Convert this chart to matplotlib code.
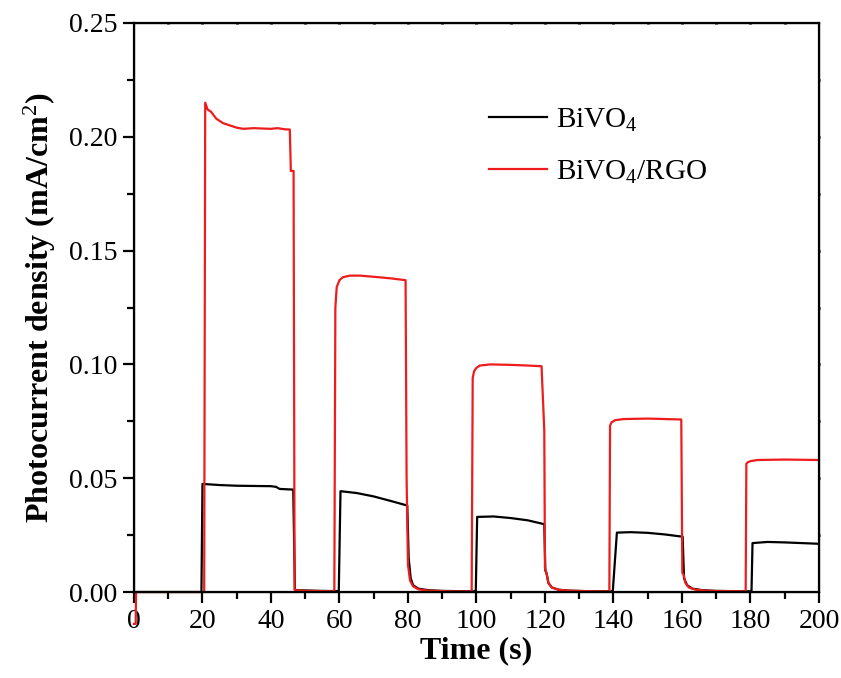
import matplotlib
matplotlib.use("Agg")
import matplotlib.pyplot as plt

plt.rcParams['font.family'] = ['Liberation Serif', 'DejaVu Serif']
plt.rcParams['mathtext.fontset'] = 'custom'
plt.rcParams['mathtext.rm'] = 'Liberation Serif'
plt.rcParams['mathtext.it'] = 'Liberation Serif:italic'
plt.rcParams['mathtext.bf'] = 'Liberation Serif:bold'

# BiVO4 (black)
t_bivo4 = [0, 19.7, 20.0, 25, 30, 35, 40, 41.5, 42.5, 46.5, 47.0, 47.5, 55, 59.5,
           59.8, 60.3, 65, 70, 75, 79.8, 80.2, 80.8, 81.5, 83, 86, 90, 99.5,
           99.8, 100.2, 105, 110, 115, 119.8, 120.1, 120.5, 121, 122, 124, 127, 132, 139.5,
           139.8, 141, 145, 150, 155, 160.2, 160.6, 161.5, 163, 166, 170, 180.3,
           180.6, 185, 190, 195, 200]
j_bivo4 = [0.0, 0.0, 0.0475, 0.0470, 0.0467, 0.0466, 0.0465, 0.0462, 0.0453, 0.0450, 0.0010, 0.0008, 0.0005, 0.0004,
           0.0004, 0.0443, 0.0435, 0.0420, 0.0400, 0.0380, 0.0150, 0.0060, 0.0030, 0.0015, 0.0008, 0.0005, 0.0003,
           0.0003, 0.0330, 0.0332, 0.0325, 0.0315, 0.0298, 0.0095, 0.0080, 0.0040, 0.0020, 0.0010, 0.0006, 0.0004, 0.0003,
           0.0003, 0.0261, 0.0263, 0.0260, 0.0253, 0.0243, 0.0060, 0.0030, 0.0015, 0.0008, 0.0005, 0.0003,
           0.0215, 0.0220, 0.0218, 0.0215, 0.0212]

# BiVO4/RGO (red)
t_rgo = [0, 0.5, 0.6, 20.5, 20.8, 21.5, 22.5, 24, 26, 28, 30, 32, 35, 38, 40, 42, 44, 45.5,
         45.8, 46.6, 46.9, 47.2, 50, 58.5,
         58.8, 59.2, 60, 61, 63, 66, 70, 75, 79.3, 79.6, 80.0, 80.6, 81.5, 83, 86, 90, 98.6,
         98.9, 99.3, 100, 101, 104, 110, 115, 119.0, 119.8, 120.0, 120.5, 121, 122, 124, 127, 132, 138.8,
         139.0, 139.4, 140.5, 143, 150, 155, 159.8, 160.1, 160.5, 161, 162, 164, 168, 178.6,
         178.8, 179.2, 180, 182, 190, 200]
j_rgo = [-0.014, -0.014, 0.0, 0.0, 0.215, 0.212, 0.211, 0.208, 0.206, 0.205, 0.204, 0.2035, 0.2038, 0.2036, 0.2035, 0.2038, 0.2033, 0.2032,
         0.185, 0.185, 0.0010, 0.0008, 0.0005, 0.0003,
         0.125, 0.134, 0.137, 0.1383, 0.139, 0.139, 0.1385, 0.1378, 0.137, 0.050, 0.012, 0.005, 0.0025, 0.0012, 0.0006, 0.0004, 0.0002,
         0.094, 0.097, 0.0985, 0.0995, 0.100, 0.0998, 0.0995, 0.0992, 0.071, 0.0105, 0.008, 0.004, 0.002, 0.001, 0.0006, 0.0004, 0.0002,
         0.073, 0.0745, 0.0755, 0.076, 0.0762, 0.076, 0.0758, 0.0085, 0.0075, 0.004, 0.002, 0.001, 0.0005, 0.0003,
         0.0563, 0.057, 0.0575, 0.058, 0.0582, 0.058]

xmajor = list(range(0, 201, 20))
xminor = list(range(10, 200, 20))
ymajor = [0, 0.05, 0.10, 0.15, 0.20, 0.25]
yminor = [0.025, 0.075, 0.125, 0.175, 0.225]

fig = plt.figure(figsize=(8.41, 6.78), dpi=100)
ax = fig.add_axes([0.1593, 0.1268, 0.8145, 0.8393])

ax.plot(t_bivo4, j_bivo4, color='black', lw=1.6, label='BiVO$_4$')
ax.plot(t_rgo, j_rgo, color='#ee1c1c', lw=1.6, label='BiVO$_4$/RGO', clip_on=False)

ax.set_xlim(0, 200)
ax.set_ylim(0, 0.25)
ax.set_xticks(xmajor)
ax.set_xticks(xminor, minor=True)
ax.set_yticks(ymajor)
ax.set_yticks(yminor, minor=True)
ax.yaxis.set_major_formatter(matplotlib.ticker.FormatStrFormatter('%.2f'))

ax.tick_params(which='major', direction='out', length=8, width=1.6, labelsize=20, pad=4)
ax.tick_params(which='minor', direction='out', length=5, width=1.6)
for s in ax.spines.values():
    s.set_linewidth(1.6)

# tiny tick dots on top and right
axt = ax.twiny()
axt.set_xlim(0, 200)
axt.set_xticks(xmajor[1:-1] + xminor)
axt.tick_params(axis='x', direction='inout', length=2, width=2, labeltop=False)
axr = ax.twinx()
axr.set_ylim(0, 0.25)
axr.set_yticks(ymajor[1:-1] + yminor)
axr.tick_params(axis='y', direction='inout', length=2, width=2, labelright=False)

ax.set_xlabel('Time (s)', fontsize=23, fontweight='bold', labelpad=2)
ax.set_ylabel('Photocurrent density (mA/cm$^2$)', fontsize=23, fontweight='bold', labelpad=8)

ax.legend(loc='upper left', bbox_to_anchor=(0.48, 0.899), frameon=False, fontsize=21,
          handlelength=2.0, handletextpad=0.3, labelspacing=0.85)

fig.savefig('out.png', dpi=100)
